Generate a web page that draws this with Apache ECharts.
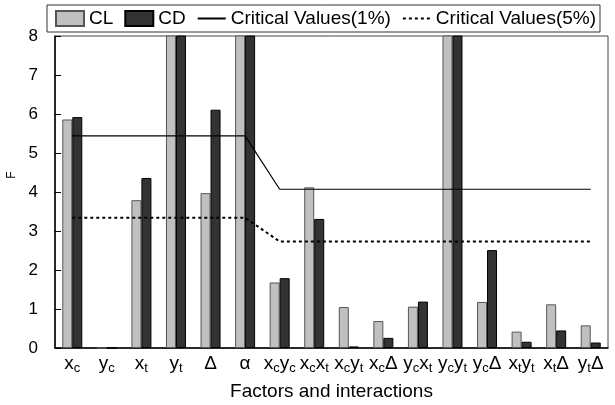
<!DOCTYPE html>
<html>
<head>
<meta charset="utf-8">
<script src="https://cdn.jsdelivr.net/npm/echarts@6/dist/echarts.min.js"></script>
<style>
  html, body { margin: 0; padding: 0; background: #fff; }
  #chart { width: 615px; height: 405px; }
</style>
</head>
<body>
<div id="chart"></div>
<script>
// Factors and two-way interactions; "_" marks a subscript letter.
const categories = ['x_c', 'y_c', 'x_t', 'y_t', 'Δ', 'α', 'x_c y_c', 'x_c x_t', 'x_c y_t',
  'x_c Δ', 'y_c x_t', 'y_c y_t', 'y_c Δ', 'x_t y_t', 'x_t Δ', 'y_t Δ'];

// F statistics (bars above 8 run off the top of the axis)
const clValues = [5.86, 0, 3.79, 8.6, 3.97, 8.6, 1.68, 4.12, 1.05, 0.69, 1.06, 8.6, 1.18, 0.42, 1.12, 0.58];
const cdValues = [5.92, 0, 4.36, 8.6, 6.11, 8.6, 1.79, 3.31, 0.04, 0.26, 1.19, 8.6, 2.51, 0.16, 0.45, 0.14];

// Critical F values at the 1% and 5% levels
const crit1 = [5.44, 5.44, 5.44, 5.44, 5.44, 5.44, 4.07, 4.07, 4.07, 4.07, 4.07, 4.07, 4.07, 4.07, 4.07, 4.07];
const crit5 = [3.34, 3.34, 3.34, 3.34, 3.34, 3.34, 2.73, 2.73, 2.73, 2.73, 2.73, 2.73, 2.73, 2.73, 2.73, 2.73];

const yTicks = [0, 1, 2, 3, 4, 5, 6, 7, 8];

const FONT = '"Liberation Sans", Arial, sans-serif';

// Turn "x_c y_t" into rich text with subscripts
function richLabel(cat) {
  return cat.split(' ').map(function (part) {
    const m = part.split('_');
    return m.length > 1 ? '{m|' + m[0] + '}{s|' + m[1] + '}' : '{m|' + part + '}';
  }).join('');
}

const chart = echarts.init(document.getElementById('chart'), null, { renderer: 'canvas' });

// Line entries in the legend show only the stroke, no marker
const hiddenMarker = { opacity: 0 };

chart.setOption({
  animation: false,
  backgroundColor: '#fff',
  textStyle: { fontFamily: FONT, color: '#000' },
  legend: {
    left: 47,
    top: 5,
    padding: [4, 4, 4, 8],
    itemGap: 11,
    itemWidth: 28,
    itemHeight: 15,
    borderColor: '#333',
    borderWidth: 1,
    textStyle: { fontFamily: FONT, fontSize: 19, color: '#000' },
    data: [
      { name: 'CL', icon: 'rect' },
      { name: 'CD', icon: 'rect' },
      { name: 'Critical Values(1%)', itemStyle: hiddenMarker },
      { name: 'Critical Values(5%)', itemStyle: hiddenMarker }
    ]
  },
  grid: {
    left: 55,
    right: 7,
    top: 36,
    bottom: 57,
    outerBoundsMode: 'none',
    containLabel: false,
    show: true,
    borderColor: '#444',
    borderWidth: 1
  },
  xAxis: {
    type: 'category',
    data: categories,
    name: 'Factors and interactions',
    nameLocation: 'middle',
    nameGap: 34,
    nameTextStyle: { fontFamily: FONT, fontSize: 19, color: '#000' },
    axisLine: { lineStyle: { color: '#000', width: 1.5 } },
    axisTick: { inside: true, length: 4, interval: 0, lineStyle: { color: '#000' } },
    axisLabel: {
      interval: 0,
      margin: 5,
      formatter: richLabel,
      rich: {
        m: { fontFamily: FONT, fontSize: 19, lineHeight: 22, color: '#000' },
        s: { fontFamily: FONT, fontSize: 13, lineHeight: 10, verticalAlign: 'bottom', color: '#000' }
      }
    }
  },
  yAxis: {
    type: 'value',
    min: yTicks[0],
    max: yTicks[yTicks.length - 1],
    interval: 1,
    name: 'F',
    nameLocation: 'middle',
    nameGap: 37,
    nameTextStyle: { fontFamily: FONT, fontSize: 12, color: '#000', padding: [0, 0, 0, 34] },
    axisLine: { show: true, lineStyle: { color: '#000', width: 1.5 } },
    axisTick: { show: true, inside: true, length: 6, lineStyle: { color: '#000' } },
    splitLine: { show: false },
    axisLabel: { fontFamily: FONT, fontSize: 17, color: '#000', margin: 17 }
  },
  series: [
    {
      name: 'CL',
      type: 'bar',
      data: clValues,
      barWidth: 10,
      barGap: '0%',
      clip: true,
      itemStyle: { color: '#c0c0c0', borderColor: '#555', borderWidth: 1 }
    },
    {
      name: 'CD',
      type: 'bar',
      data: cdValues,
      barWidth: 10,
      barGap: '0%',
      clip: true,
      itemStyle: { color: '#333333', borderColor: '#000', borderWidth: 1 }
    },
    {
      name: 'Critical Values(1%)',
      type: 'line',
      data: crit1,
      symbol: 'none',
      lineStyle: { color: '#000', width: 1.2, type: 'solid' },
      itemStyle: { color: '#000' }
    },
    {
      name: 'Critical Values(5%)',
      type: 'line',
      data: crit5,
      symbol: 'none',
      lineStyle: { color: '#000', width: 2, type: [3, 3] },
      itemStyle: { color: '#000' }
    }
  ]
});
</script>
</body>
</html>
